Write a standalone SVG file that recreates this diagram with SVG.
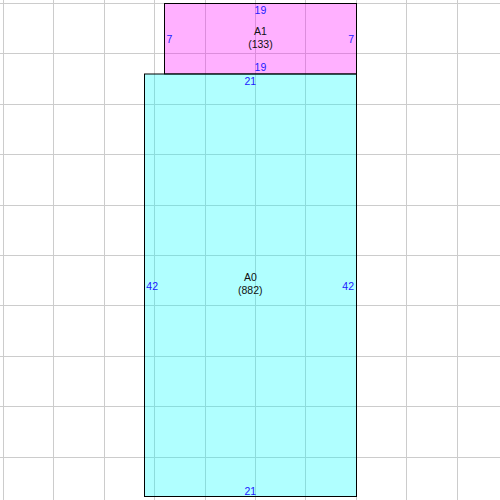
<svg xmlns="http://www.w3.org/2000/svg" width="500" height="500" viewBox="0 0 500 500">
<style>
.grid line{stroke:#ccc;stroke-width:1}
.box{stroke:#000;stroke-width:1;fill:none}
.dim{font-family:"Liberation Sans",Arial,sans-serif;font-size:10.5px;fill:#2020ff}
.name{font-family:"Liberation Sans",Arial,sans-serif;font-size:10.5px;fill:#111;text-anchor:middle}
</style>
<rect width="500" height="500" fill="#fff"/>
<g class="grid">
<line x1="3.5" y1="0" x2="3.5" y2="500"/>
<line x1="53.5" y1="0" x2="53.5" y2="500"/>
<line x1="104.5" y1="0" x2="104.5" y2="500"/>
<line x1="154.5" y1="0" x2="154.5" y2="500"/>
<line x1="205.5" y1="0" x2="205.5" y2="500"/>
<line x1="255.5" y1="0" x2="255.5" y2="500"/>
<line x1="305.5" y1="0" x2="305.5" y2="500"/>
<line x1="356.5" y1="0" x2="356.5" y2="500"/>
<line x1="406.5" y1="0" x2="406.5" y2="500"/>
<line x1="457.5" y1="0" x2="457.5" y2="500"/>
<line x1="0" y1="3.5" x2="500" y2="3.5"/>
<line x1="0" y1="53.5" x2="500" y2="53.5"/>
<line x1="0" y1="104.5" x2="500" y2="104.5"/>
<line x1="0" y1="154.5" x2="500" y2="154.5"/>
<line x1="0" y1="205.5" x2="500" y2="205.5"/>
<line x1="0" y1="255.5" x2="500" y2="255.5"/>
<line x1="0" y1="305.5" x2="500" y2="305.5"/>
<line x1="0" y1="356.5" x2="500" y2="356.5"/>
<line x1="0" y1="406.5" x2="500" y2="406.5"/>
<line x1="0" y1="457.5" x2="500" y2="457.5"/>
</g>
<g id="A1">
<rect x="164.5" y="3.5" width="192" height="70.5" fill="#ff00ff" fill-opacity="0.31"/>
<rect class="box" x="164.5" y="3.5" width="192" height="70.5"/>
<text class="dim" x="260.4" y="14" text-anchor="middle">19</text>
<text class="dim" x="260.4" y="70.7" text-anchor="middle">19</text>
<text class="dim" x="166.5" y="42.7">7</text>
<text class="dim" x="354" y="42.7" text-anchor="end">7</text>
<text class="name" x="260.4" y="35">A1</text>
<text class="name" x="260.4" y="47.5">(133)</text>
</g>
<g id="A0">
<rect x="144.5" y="74" width="212" height="422.5" fill="#00ffff" fill-opacity="0.31"/>
<rect class="box" x="144.5" y="74" width="212" height="422.5"/>
<text class="dim" x="250.3" y="84.7" text-anchor="middle">21</text>
<text class="dim" x="250.3" y="495" text-anchor="middle">21</text>
<text class="dim" x="146.3" y="290">42</text>
<text class="dim" x="354" y="290" text-anchor="end">42</text>
<text class="name" x="250.3" y="281">A0</text>
<text class="name" x="250.3" y="293.5">(882)</text>
</g>
<g id="connectors"/>
</svg>
